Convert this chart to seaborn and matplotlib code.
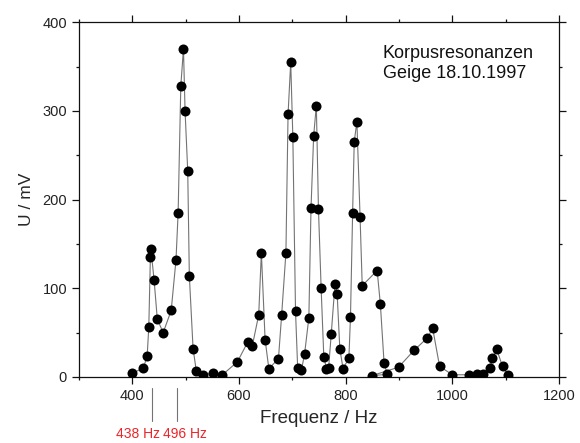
import matplotlib
matplotlib.use("Agg")
import matplotlib.pyplot as plt
from matplotlib.ticker import MultipleLocator
import pandas as pd
import seaborn as sns

# measured points, in measurement order (849 Hz was taken after 878 Hz)
freq_hz = [399, 421, 428, 431, 434, 435, 441, 447, 458, 473, 482, 486, 491, 496,
           499, 504, 507, 514, 520, 533, 552, 569, 597, 617, 625, 637, 642, 649,
           656, 674, 680, 688, 692, 697, 701, 706, 710, 717, 723, 731, 735, 740,
           745, 749, 754, 759, 764, 768, 773, 780, 784, 789, 795, 806, 809, 813,
           816, 821, 827, 831, 859, 865, 872, 878, 849, 899, 928, 953, 963, 976,
           1000, 1032, 1046, 1058, 1070, 1075, 1083, 1094, 1104]
u_mv = [4, 10, 24, 56, 135, 144, 109, 65, 50, 75, 132, 185, 328, 370,
        300, 232, 114, 32, 7, 2.5, 4.5, 2.5, 17, 40, 35, 70, 140, 42,
        9.5, 20.5, 70, 140, 296, 355, 270, 74, 10.5, 7.5, 26, 67, 190, 272,
        306, 189, 100, 23, 9, 10, 49, 105, 94, 32, 9.5, 21, 68, 185,
        265, 288, 180, 103, 120, 82, 15.5, 3, 1.5, 11, 30, 44, 55, 12,
        2.5, 2.5, 3, 3, 10, 21, 31, 12, 2.5]

# marker lines below the x axis
mark_x = [437, 483]
mark_labels = ["438 Hz", "496 Hz"]
mark_label_x = [411, 499]

df = pd.DataFrame({"f": freq_hz, "u": u_mv})

sns.set_style("ticks")
plt.rcParams["font.family"] = ["Liberation Sans", "DejaVu Sans"]

fig = plt.figure(figsize=(5.8, 4.43), dpi=100)
ax = fig.add_axes([0.136, 0.149, 0.828, 0.801])

sns.lineplot(data=df, x="f", y="u", sort=False, color="0.45", lw=0.8,
             ax=ax, zorder=2)
sns.scatterplot(data=df, x="f", y="u", color="black", s=52, linewidth=0,
                ax=ax, zorder=3)

ax.set_xlim(300, 1200)
ax.set_ylim(0, 400)
ax.xaxis.set_major_locator(MultipleLocator(200))
ax.xaxis.set_minor_locator(MultipleLocator(100))
ax.yaxis.set_major_locator(MultipleLocator(100))
ax.yaxis.set_minor_locator(MultipleLocator(50))

for s in ax.spines.values():
    s.set_visible(True)
    s.set_linewidth(0.9)
    s.set_color("#111111")
ax.tick_params(which="both", direction="out", top=True, right=True,
               labeltop=False, labelright=False, width=0.9, color="#111111")
ax.tick_params(which="major", length=5, labelsize=10.5, pad=3.5,
               labelcolor="#222222")
ax.tick_params(which="minor", length=2.5)

ax.set_xlabel("Frequenz / Hz", fontsize=13.5, labelpad=5)
ax.set_ylabel("U / mV", fontsize=12.5, labelpad=6)

ax.text(0.633, 0.937, "Korpusresonanzen\nGeige 18.10.1997", transform=ax.transAxes,
        fontsize=13, va="top", ha="left", linespacing=1.25, color="#111111")

# resonance markers under the axis
for xm in mark_x:
    ax.plot([xm, xm], [-12.5, -50], color="0.45", lw=0.8, clip_on=False)
for xl, lab in zip(mark_label_x, mark_labels):
    ax.text(xl, -64, lab, color="#e8262b", fontsize=10, ha="center",
            va="center", clip_on=False)

fig.savefig("out.png", dpi=100)
